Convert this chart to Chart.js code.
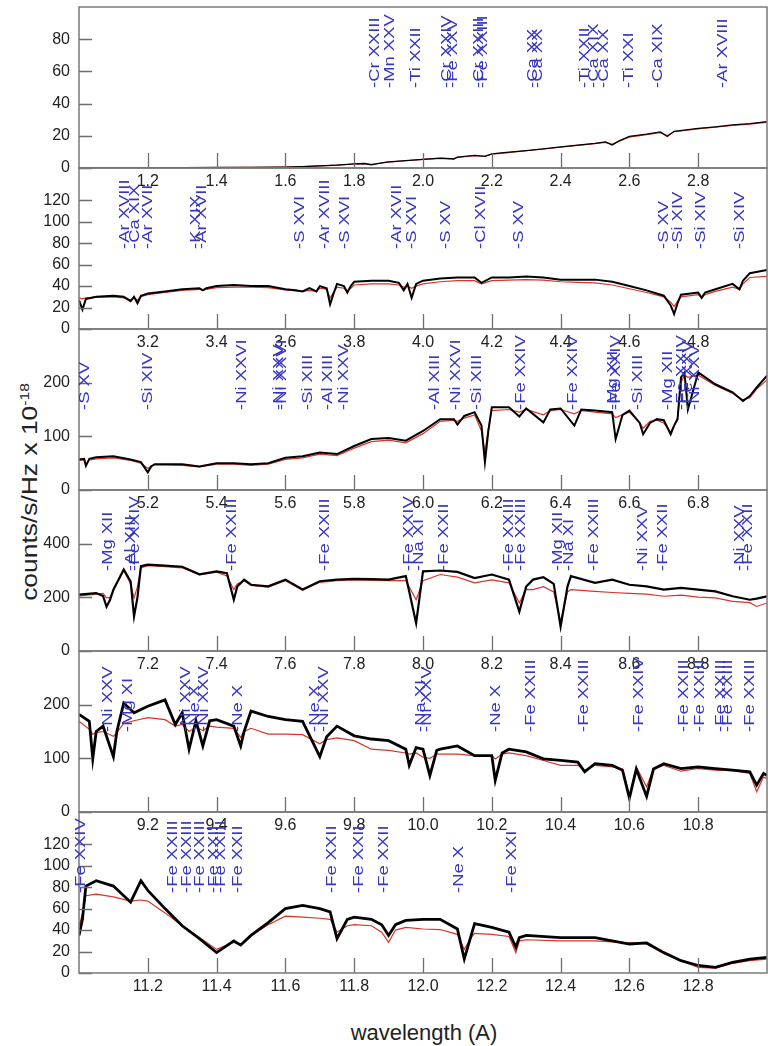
<!DOCTYPE html>
<html>
<head>
<meta charset="utf-8">
<title>spectrum panels</title>
<script src="https://cdn.jsdelivr.net/npm/chart.js"></script>
<style>
  html, body { margin: 0; padding: 0; background: #fff; }
  #page { position: relative; width: 768px; height: 1046px; overflow: hidden; font-family: "Liberation Sans", Arial, Helvetica, sans-serif; color: #222; }
  #page canvas { position: absolute; left: 0; }
  #ytitle { position: absolute; left: 30px; top: 492px; white-space: nowrap; font-size: 22px;
            transform: translate(-50%, -50%) rotate(-90deg) scaleX(1.2); }
  #ytitle sup { font-size: 13px; }
  #xtitle { position: absolute; left: 424px; top: 1033px; white-space: nowrap; font-size: 22px;
            transform: translate(-50%, -50%); }
</style>
</head>
<body>
<div id="page">
  <div id="ytitle">counts/s/Hz x 10<sup>-18</sup></div>
  <div id="xtitle">wavelength (A)</div>
</div>
<script>
// ---- panel 1 : 1-3 A
const p1Wave  = [1.0,1.1,1.2,1.3,1.4,1.5,1.6,1.65,1.7,1.75,1.8,1.83,1.85,1.88,1.9,1.95,2.0,2.05,2.09,2.1,2.15,2.18,2.2,2.25,2.3,2.35,2.4,2.45,2.5,2.53,2.55,2.57,2.6,2.65,2.69,2.71,2.73,2.8,2.85,2.9,2.95,3.0];
const p1Flux  = [0,0,0,0.2,0.3,0.4,0.6,0.9,1.3,1.8,2.6,2.8,2.0,3.2,3.8,4.6,5.4,6.1,5.6,6.8,7.8,7.2,8.8,9.8,10.8,11.9,13.1,14.2,15.3,16.2,14.2,16.8,19.6,21.0,22.4,19.6,22.8,24.6,25.6,26.8,27.6,28.8];
const p1Model = [0,0,0,0.2,0.3,0.4,0.6,0.9,1.3,1.8,2.5,2.7,2.3,3.1,3.7,4.5,5.3,6.0,5.8,6.6,7.6,7.3,8.6,9.6,10.7,11.8,12.9,14.0,15.1,15.9,14.8,16.6,19.2,20.7,22.0,20.2,22.5,24.3,25.3,26.4,27.3,28.4];
const p1Lines = ["Cr XXIII","Mn XXV","Ti XXII","Cr XXIV","Fe XXV","Cr XXIII","Fe XXIII","Ca XX","Ca XX","Ti XXII","Ca XIX","Ca XX","Ti XXI","Ca XIX","Ar XVIII"];
const p1LineWave = [1.861,1.905,1.980,2.071,2.086,2.162,2.173,2.319,2.334,2.471,2.497,2.526,2.600,2.683,2.872];
const p1XTicks = [1.2,1.4,1.6,1.8,2.0,2.2,2.4,2.6,2.8];
const p1YTicks = [0,20,40,60,80];

// ---- panel 2 : 3-5 A
const p2Wave  = [3.0,3.01,3.02,3.05,3.1,3.13,3.15,3.16,3.17,3.18,3.2,3.25,3.3,3.35,3.36,3.37,3.4,3.45,3.5,3.55,3.6,3.63,3.65,3.67,3.69,3.7,3.72,3.73,3.74,3.75,3.77,3.78,3.79,3.8,3.85,3.9,3.93,3.944,3.955,3.967,3.98,4.0,4.05,4.1,4.15,4.17,4.2,4.25,4.3,4.35,4.4,4.45,4.5,4.55,4.6,4.65,4.7,4.72,4.73,4.74,4.75,4.8,4.81,4.82,4.85,4.9,4.92,4.93,4.95,5.0];
const p2Flux  = [27,18,28,30,31,30,26,30,24,31,33,35,37,38,36,38,40,41,40,40,37,36,35,38,35,40,38,23,33,42,40,34,40,44,45,45,43,36,42,29,42,45,47,48,48,43,48,48,49,48,46,46,46,44,40,36,31,22,14,24,32,34,29,34,37,42,37,45,52,55];
const p2Model = [29,28,29,29.5,30,29,27,29,27,30,32,34,36,37,36,37,38.5,39,39,38.5,36.5,35.5,35,36,35,38,37,29,34,39,38,35,38,41,42,42,41,39,40,38,40,42,44,45,45,42,45,45.5,46,45.5,44,43.5,43,41,37.5,34,30,25,21,26,30,32,29,32,35,39,37,42,48,49];
const p2Lines = ["Ar XVIII","Ca XIX","Ar XVII","K XIX","Ar XVII","S XVI","Ar XVIII","S XVI","Ar XVII","S XVI","S XV","Cl XVII","S XV","S XV","Si XIV","Si XIV","Si XIV"];
const p2LineWave = [3.133,3.162,3.201,3.340,3.357,3.643,3.716,3.774,3.923,3.969,4.066,4.168,4.279,4.702,4.741,4.809,4.921];
const p2XTicks = [3.2,3.4,3.6,3.8,4.0,4.2,4.4,4.6,4.8];
const p2YTicks = [0,20,40,60,80,100,120];

// ---- panel 3 : 5-7 A
const p3Wave  = [5.0,5.015,5.02,5.03,5.05,5.1,5.15,5.18,5.2,5.21,5.22,5.25,5.3,5.35,5.4,5.45,5.5,5.55,5.6,5.65,5.7,5.75,5.8,5.85,5.9,5.95,6.0,6.05,6.09,6.1,6.12,6.15,6.17,6.18,6.19,6.2,6.25,6.28,6.3,6.35,6.37,6.4,6.44,6.46,6.5,6.55,6.56,6.58,6.6,6.63,6.64,6.66,6.68,6.7,6.72,6.73,6.74,6.75,6.76,6.77,6.8,6.85,6.9,6.93,6.95,6.97,7.0];
const p3Flux  = [57,58,45,58,61,63,57,52,33,44,48,48,48,44,50,50,48,50,60,63,70,67,82,95,97,92,110,132,132,122,138,145,120,52,110,154,154,137,152,126,150,152,120,150,148,145,95,140,148,125,104,125,132,130,104,120,132,210,219,150,219,197,182,166,175,191,213];
const p3Model = [55,56,48,56,58,60,55,50,40,45,47,47,46,43,48,48,46,48,57,60,67,64,78,90,93,88,105,128,130,128,134,140,110,70,115,148,150,145,150,140,148,150,142,148,145,142,135,140,145,125,115,128,130,125,108,120,135,200,214,210,214,195,180,168,172,188,205];
const p3Lines = ["S XV","Si XIV","Ni XXVI","Ni XXV","Ni XXVI","Si XIII","Al XIII","Ni XXV","Al XIII","Ni XXVI","Si XIII","Fe XXIV","Fe XXIV","Mg XII","Fe XXIV","Si XIII","Mg XII","Fe XXIV","Fe XXV","Ni XXV"];
const p3LineWave = [5.016,5.201,5.473,5.580,5.590,5.667,5.725,5.769,6.036,6.095,6.158,6.284,6.435,6.553,6.561,6.624,6.712,6.754,6.771,6.792];
const p3XTicks = [5.2,5.4,5.6,5.8,6.0,6.2,6.4,6.6,6.8];
const p3YTicks = [0,100,200];

// ---- panel 4 : 7-9 A
const p4Wave  = [7.0,7.05,7.07,7.08,7.09,7.1,7.13,7.15,7.16,7.17,7.18,7.2,7.25,7.3,7.35,7.4,7.43,7.45,7.46,7.48,7.5,7.55,7.6,7.65,7.7,7.75,7.8,7.85,7.9,7.95,7.98,8.0,8.05,8.1,8.15,8.2,8.25,8.28,8.3,8.32,8.35,8.38,8.4,8.42,8.43,8.5,8.55,8.6,8.65,8.7,8.75,8.8,8.85,8.9,8.95,8.97,9.0];
const p4Flux  = [210,216,205,165,190,229,304,260,129,200,316,322,318,314,286,297,290,191,240,266,247,241,266,229,260,266,269,268,266,279,104,297,300,295,272,285,266,147,240,266,275,250,91,240,279,254,266,247,241,229,235,229,222,204,191,195,204];
const p4Model = [205,212,215,198,200,225,300,250,198,240,310,318,314,310,284,294,280,229,250,262,244,238,262,226,256,262,265,263,262,262,191,262,285,275,254,265,254,179,230,229,240,220,110,220,229,222,218,215,212,204,208,201,198,185,180,166,179];
const p4Lines = ["Mg XII","Al XIII","Fe XXIV","Fe XXIII","Fe XXIII","Fe XXIV","Na XI","Fe XXII","Fe XXIII","Fe XXIII","Mg XII","Na XI","Fe XXIII","Ni XXV","Fe XXII","Ni XXV","Fe XXII"];
const p4LineWave = [7.084,7.150,7.162,7.444,7.716,7.959,7.988,8.061,8.250,8.284,8.391,8.425,8.498,8.639,8.697,8.921,8.945];
const p4XTicks = [7.2,7.4,7.6,7.8,8.0,8.2,8.4,8.6,8.8];
const p4YTicks = [0,200,400];

// ---- panel 5 : 9-11 A
const p5Wave  = [9.0,9.03,9.04,9.05,9.07,9.1,9.11,9.13,9.16,9.2,9.25,9.28,9.3,9.32,9.34,9.36,9.38,9.4,9.45,9.47,9.48,9.5,9.55,9.6,9.65,9.7,9.72,9.75,9.8,9.85,9.9,9.95,9.96,9.98,10.0,10.02,10.04,10.05,10.1,10.15,10.2,10.21,10.23,10.25,10.3,10.35,10.4,10.45,10.47,10.5,10.55,10.58,10.6,10.62,10.65,10.67,10.7,10.75,10.8,10.85,10.9,10.95,10.97,10.99,11.0];
const p5Flux  = [182,169,99,150,160,103,150,203,185,197,209,163,185,117,170,123,170,172,160,123,150,188,178,172,169,103,140,160,142,136,133,117,87,120,117,68,115,117,123,105,105,59,110,117,112,99,96,93,75,90,87,78,26,80,29,80,90,81,84,81,78,75,50,72,68];
const p5Model = [169,154,145,148,150,141,148,165,170,176,172,160,163,150,158,152,160,158,156,139,150,156,145,145,144,127,135,138,133,117,115,110,108,110,102,100,108,108,108,105,105,99,108,110,105,96,87,87,78,87,84,80,29,84,47,80,87,76,81,78,77,72,38,65,62];
const p5Lines = ["Ni XXV","Mg XI","Ni XXV","Ne X","Ni XXV","Ne X","Ne X","Ni XXV","Na XI","Ni XXV","Ne X","Fe XXIII","Fe XXIII","Fe XXIV","Fe XXIII","Fe XXIII","Fe XXIII","Fe XXIII","Fe XXIII"];
const p5LineWave = [9.084,9.142,9.310,9.337,9.363,9.463,9.687,9.711,9.993,10.013,10.211,10.313,10.469,10.629,10.760,10.804,10.867,10.887,10.950];
const p5XTicks = [9.2,9.4,9.6,9.8,10.0,10.2,10.4,10.6,10.8];
const p5YTicks = [0,100,200];

// ---- panel 6 : 11-13 A
const p6Wave  = [11.0,11.01,11.02,11.05,11.1,11.15,11.18,11.2,11.25,11.3,11.35,11.4,11.45,11.47,11.5,11.55,11.6,11.65,11.7,11.73,11.75,11.78,11.8,11.85,11.88,11.9,11.92,11.95,12.0,12.05,12.1,12.12,12.14,12.15,12.2,12.25,12.27,12.28,12.3,12.4,12.5,12.6,12.65,12.7,12.75,12.8,12.85,12.9,12.95,13.0];
const p6Flux  = [35,50,81,86,81,66,86,77,60,44,32,19,30,26,35,47,60,63,60,57,32,50,52,50,45,35,45,49,50,50,41,13,35,46,42.5,38,24,33,35,33,33,27,28,19,11.5,7,5.3,10,13,14.6];
const p6Model = [44,55,72,73.5,71,67,68,67,56,44,33,22,28.5,26,34.7,45,53,52,51,50,38,44,45,44,38,28.5,40,42.5,41,40.5,36,22,33,37,36,34,19,30,31,30,30,28,27,18,11.5,5.3,4.5,9,11.5,13];
const p6Lines = ["Fe XXIV","Fe XXIII","Fe XXIII","Fe XXIII","Fe XXII","Fe XXIII","Fe XXII","Fe XXII","Fe XXII","Fe XXII","Ne X","Fe XXI"];
const p6LineWave = [11.006,11.273,11.313,11.351,11.392,11.413,11.463,11.735,11.813,11.886,12.104,12.260];
const p6XTicks = [11.2,11.4,11.6,11.8,12.0,12.2,12.4,12.6,12.8];
const p6YTicks = [0,20,40,60,80,100,120];

const FONT = "'Liberation Sans', Arial, Helvetica, sans-serif";

// draws the frame, the inward tick marks and the rotated line ids
const panelDecor = {
  id: "panelDecor",
  afterDatasetsDraw(chart, args, opts) {
    const ctx = chart.ctx;
    const area = chart.chartArea;
    const xs = chart.scales.x;
    const ys = chart.scales.y;
    ctx.save();
    ctx.strokeStyle = "#6e6e6e";
    ctx.lineWidth = 1.3;
    ctx.beginPath();
    opts.xTicks.forEach(v => {
      const px = Math.round(xs.getPixelForValue(v)) + 0.5;
      ctx.moveTo(px, area.bottom);
      ctx.lineTo(px, area.bottom - 15);
    });
    opts.yTicks.forEach(v => {
      const py = Math.round(ys.getPixelForValue(v)) + 0.5;
      ctx.moveTo(area.left, py);
      ctx.lineTo(area.left + 13, py);
    });
    ctx.stroke();

    ctx.strokeStyle = "#7a7a7a";
    ctx.lineWidth = 1.5;
    ctx.strokeRect(area.left, area.top, area.right - area.left, area.bottom - area.top);

    ctx.fillStyle = "#3636c2";
    ctx.font = "14.5px " + FONT;
    ctx.textAlign = "left";
    ctx.textBaseline = "middle";
    opts.names.forEach((name, i) => {
      const px = xs.getPixelForValue(opts.waves[i]);
      ctx.save();
      ctx.translate(px, area.top + 81);
      ctx.rotate(-Math.PI / 2);
      ctx.scale(1.27, 1);
      ctx.fillText("-" + name, 0, 0);
      ctx.restore();
    });
    ctx.restore();
  }
};

function ToPoints(wave, vals) {
  return wave.map((w, i) => ({ x: w, y: vals[i] }));
}

function CreatePanel(index, p) {
  const padTop = 4;
  const axisH = 26;
  const panelH = 161;
  const canvas = document.createElement("canvas");
  canvas.width = 768;
  canvas.height = padTop + panelH + axisH;
  canvas.style.top = (7 + index * panelH - padTop) + "px";
  document.getElementById("page").appendChild(canvas);

  return new Chart(canvas, {
    type: "line",
    data: {
      datasets: [
        { data: ToPoints(p.wave, p.flux), borderColor: "#000", borderWidth: p.blackWidth, pointRadius: 0, tension: 0 },
        { data: ToPoints(p.wave, p.model), borderColor: "#d8342a", borderWidth: 1.2, pointRadius: 0, tension: 0 }
      ]
    },
    options: {
      responsive: false,
      animation: false,
      devicePixelRatio: 1,
      layout: { padding: { left: 0, right: 1, top: padTop, bottom: 0 } },
      plugins: {
        legend: { display: false },
        tooltip: { enabled: false },
        panelDecor: { xTicks: p.xTicks, yTicks: p.yTicks, names: p.lines, waves: p.lineWave }
      },
      scales: {
        x: {
          type: "linear",
          min: p.min,
          max: p.min + 2,
          afterBuildTicks: s => { s.ticks = p.xTicks.map(v => ({ value: v })); },
          afterFit: s => { s.height = axisH; s.paddingLeft = 0; s.paddingRight = 0; },
          grid: { display: false, drawTicks: false },
          border: { display: false },
          ticks: { autoSkip: false, maxRotation: 0, padding: 4, color: "#222",
                   font: { size: 16, family: FONT }, callback: v => Number(v).toFixed(1) }
        },
        y: {
          type: "linear",
          min: 0,
          max: p.max,
          afterBuildTicks: s => { s.ticks = p.yTicks.map(v => ({ value: v })); },
          afterFit: s => { s.width = 79; s.paddingTop = 0; s.paddingBottom = 0; },
          grid: { display: false, drawTicks: false },
          border: { display: false },
          ticks: { padding: 9, color: "#222", font: { size: 16, family: FONT } }
        }
      }
    },
    plugins: [panelDecor]
  });
}

CreatePanel(0, { wave: p1Wave, flux: p1Flux, model: p1Model, lines: p1Lines, lineWave: p1LineWave, xTicks: p1XTicks, yTicks: p1YTicks, min: 1, max: 100, blackWidth: 1.3 });
CreatePanel(1, { wave: p2Wave, flux: p2Flux, model: p2Model, lines: p2Lines, lineWave: p2LineWave, xTicks: p2XTicks, yTicks: p2YTicks, min: 3, max: 150, blackWidth: 2 });
CreatePanel(2, { wave: p3Wave, flux: p3Flux, model: p3Model, lines: p3Lines, lineWave: p3LineWave, xTicks: p3XTicks, yTicks: p3YTicks, min: 5, max: 300, blackWidth: 2 });
CreatePanel(3, { wave: p4Wave, flux: p4Flux, model: p4Model, lines: p4Lines, lineWave: p4LineWave, xTicks: p4XTicks, yTicks: p4YTicks, min: 7, max: 600, blackWidth: 2.2 });
CreatePanel(4, { wave: p5Wave, flux: p5Flux, model: p5Model, lines: p5Lines, lineWave: p5LineWave, xTicks: p5XTicks, yTicks: p5YTicks, min: 9, max: 300, blackWidth: 2.8 });
CreatePanel(5, { wave: p6Wave, flux: p6Flux, model: p6Model, lines: p6Lines, lineWave: p6LineWave, xTicks: p6XTicks, yTicks: p6YTicks, min: 11, max: 150, blackWidth: 2.8 });
</script>
</body>
</html>
